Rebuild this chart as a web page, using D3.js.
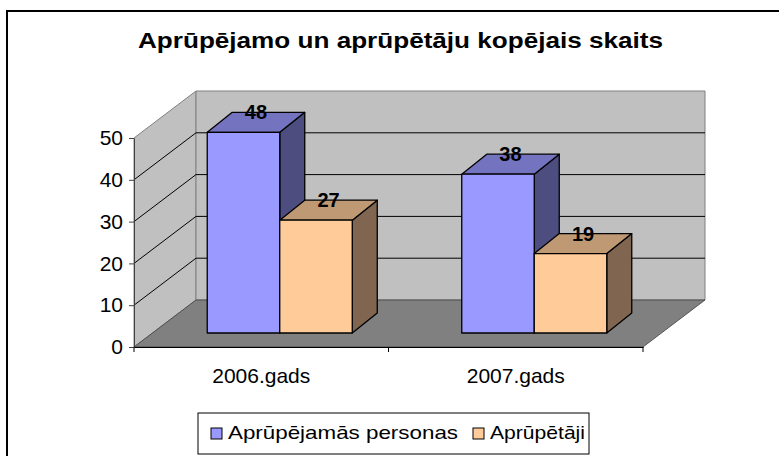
<!DOCTYPE html>
<html>
<head>
<meta charset="utf-8">
<script src="https://cdn.jsdelivr.net/npm/d3@7"></script>
<style>
  body { margin: 0; background: #fff; }
  svg { display: block; font-family: "Liberation Sans", Arial, sans-serif; }
</style>
</head>
<body>
<div id="chart"></div>
<script>
const categories = ["2006.gads", "2007.gads"]
const seriesNames = ["Aprūpējamās personas", "Aprūpētāji"]
const personas = [48, 38]
const aprupetaji = [27, 19]
const yTicks = [0, 10, 20, 30, 40, 50]
const title = "Aprūpējamo un aprūpētāju kopējais skaits"

const colors = {
  front: ["#9999ff", "#ffcc99"],
  top: ["#7373bf", "#bf9973"],
  side: ["#4d4d80", "#806650"]
}

const width = 779, height = 456
const margin = { top: 138, right: 136, bottom: 109, left: 134 }
// 3D depth of the plot box, and of the bars inside it
const depth = { dx: 62, dy: -47 }
const barOff = { dx: 18.5, dy: -14 }
const barDepth = { dx: 25, dy: -20 }
const font = "Liberation Sans, Arial, sans-serif"

const data = categories.map((c, i) => ({ name: c, values: [personas[i], aprupetaji[i]] }))

const svg = d3.select("#chart").append("svg")
  .attr("width", width)
  .attr("height", height)

// outer chart border
svg.append("rect")
  .attr("x", 7).attr("y", 11)
  .attr("width", 790).attr("height", 470)
  .attr("fill", "#fff")
  .attr("stroke", "#000")
  .attr("stroke-width", 2)

svg.append("text")
  .attr("x", 138).attr("y", 48)
  .attr("font-size", 22)
  .attr("font-weight", "bold")
  .attr("textLength", 525)
  .attr("lengthAdjust", "spacingAndGlyphs")
  .text(title)

const x0 = d3.scaleBand()
  .domain(categories)
  .range([margin.left, width - margin.right])
  .paddingInner(0).paddingOuter(0)

const x1 = d3.scaleBand()
  .domain([0, 1])
  .range([0, x0.bandwidth()])
  .paddingInner(0).paddingOuter(0.755)

const y = d3.scaleLinear()
  .domain([0, 50])
  .range([height - margin.bottom, margin.top])

const xl = margin.left, xr = width - margin.right
const y0 = y(0), yTop = y(50)
const pts = a => a.map(p => p.join(",")).join(" ")

// left wall
svg.append("polygon")
  .attr("points", pts([[xl, yTop], [xl + depth.dx, yTop + depth.dy], [xl + depth.dx, y0 + depth.dy], [xl, y0]]))
  .attr("fill", "#c0c0c0").attr("stroke", "#808080")

// back wall
svg.append("polygon")
  .attr("points", pts([[xl + depth.dx, yTop + depth.dy], [xr + depth.dx, yTop + depth.dy], [xr + depth.dx, y0 + depth.dy], [xl + depth.dx, y0 + depth.dy]]))
  .attr("fill", "#c0c0c0").attr("stroke", "#808080")

// floor
svg.append("polygon")
  .attr("points", pts([[xl, y0], [xr, y0], [xr + depth.dx, y0 + depth.dy], [xl + depth.dx, y0 + depth.dy]]))
  .attr("fill", "#808080").attr("stroke", "#404040").attr("stroke-width", 0.8)

// gridlines: diagonal on the side wall, horizontal on the back wall
const grid = svg.append("g").attr("stroke", "#000").attr("stroke-width", 1)
yTicks.filter(t => t > 0 && t < 50).forEach(t => {
  grid.append("line")
    .attr("x1", xl).attr("y1", y(t))
    .attr("x2", xl + depth.dx).attr("y2", y(t) + depth.dy)
  grid.append("line")
    .attr("x1", xl + depth.dx).attr("y1", y(t) + depth.dy)
    .attr("x2", xr + depth.dx).attr("y2", y(t) + depth.dy)
})

// bars
const bars = []
data.forEach(d => {
  d.values.forEach((v, s) => {
    bars.push({ cat: d.name, s: s, v: v })
  })
})

const barG = svg.append("g").attr("stroke", "#000").attr("stroke-width", 1.3).attr("stroke-linejoin", "round")
bars.forEach(b => {
  const bx = x0(b.cat) + x1(b.s) + barOff.dx
  const bw = x1.bandwidth()
  const by = y(b.v) + barOff.dy
  const bb = y(0) + barOff.dy
  const g = barG.append("g")
  g.append("polygon")
    .attr("points", pts([[bx + bw, by], [bx + bw + barDepth.dx, by + barDepth.dy], [bx + bw + barDepth.dx, bb + barDepth.dy], [bx + bw, bb]]))
    .attr("fill", colors.side[b.s])
  g.append("polygon")
    .attr("points", pts([[bx, by], [bx + barDepth.dx, by + barDepth.dy], [bx + bw + barDepth.dx, by + barDepth.dy], [bx + bw, by]]))
    .attr("fill", colors.top[b.s])
  g.append("rect")
    .attr("x", bx).attr("y", by)
    .attr("width", bw).attr("height", bb - by)
    .attr("fill", colors.front[b.s])
})

// value labels
svg.append("g")
  .selectAll("text")
  .data(bars)
  .enter().append("text")
    .attr("x", b => x0(b.cat) + x1(b.s) + barOff.dx + x1.bandwidth() / 2 + barDepth.dx / 2)
    .attr("y", b => y(b.v) + barOff.dy + barDepth.dy + 7)
    .attr("text-anchor", "middle")
    .attr("font-size", 20)
    .attr("font-weight", "bold")
    .text(b => b.v)

// y axis
const gy = svg.append("g")
  .attr("transform", `translate(${xl},0)`)
  .call(d3.axisLeft(y).tickValues(yTicks).tickSize(5).tickPadding(6).tickSizeOuter(0))
gy.select(".domain").attr("stroke", "#404040")
gy.selectAll(".tick line").attr("stroke", "#404040")
gy.selectAll("text").attr("font-size", 21).attr("font-family", font).attr("fill", "#000")

// x axis
const gx = svg.append("g")
  .attr("transform", `translate(0,${y0})`)
  .call(d3.axisBottom(x0).tickSize(0).tickPadding(22).tickSizeOuter(0))
gx.select(".domain").attr("stroke", "#000")
gx.selectAll("text").attr("font-size", 21).attr("font-family", font).attr("fill", "#000")
  .attr("dy", "0").attr("y", 36)
const xTickPos = [xl].concat(categories.map(c => x0(c) + x0.bandwidth()))
gx.selectAll(".sep").data(xTickPos).enter().append("line")
  .attr("x1", d => d).attr("x2", d => d)
  .attr("y1", 0).attr("y2", 5)
  .attr("stroke", "#000")

// legend
const legend = svg.append("g")
legend.append("rect")
  .attr("x", 198).attr("y", 413)
  .attr("width", 391).attr("height", 41)
  .attr("fill", "#fff").attr("stroke", "#000")
const legX = [211, 473]
const legW = [230, 95]
seriesNames.forEach((n, i) => {
  legend.append("rect")
    .attr("x", legX[i]).attr("y", 428)
    .attr("width", 11).attr("height", 11)
    .attr("fill", colors.front[i]).attr("stroke", "#000")
  legend.append("text")
    .attr("x", legX[i] + 17).attr("y", 439)
    .attr("font-size", 18.5)
    .attr("textLength", legW[i])
    .attr("lengthAdjust", "spacingAndGlyphs")
    .text(n)
})
</script>
</body>
</html>
